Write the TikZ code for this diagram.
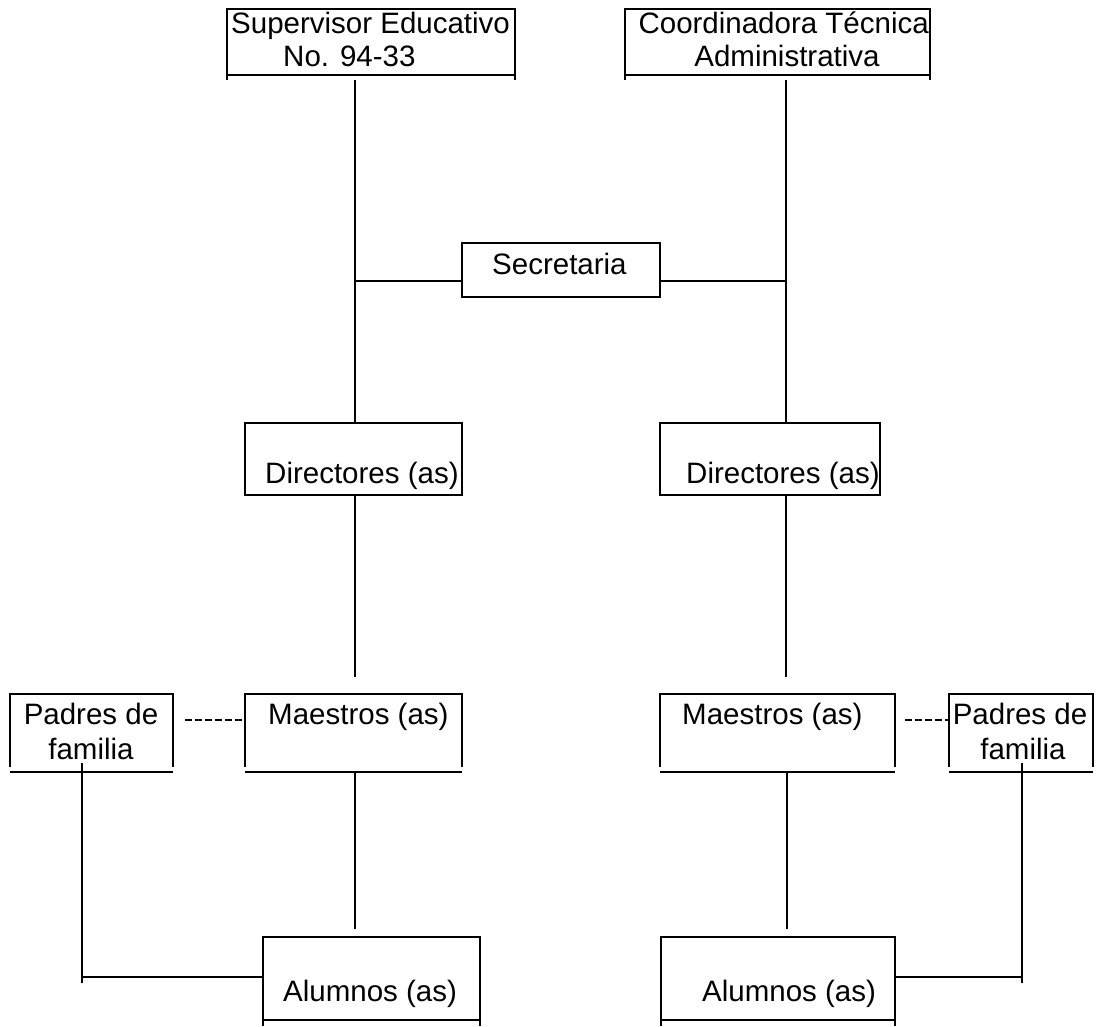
\documentclass[tikz,border=0pt]{standalone}
\usepackage{fontspec}
\setmainfont{Liberation Sans}
\begin{document}
\begin{tikzpicture}[x=1pt,y=-1pt,
  box/.style={draw,line width=1.4pt},
  conn/.style={line width=1.4pt},
  dashconn/.style={line width=1.4pt,dash pattern=on 7pt off 3pt},
  lbl/.style={inner sep=0pt,font=\fontsize{29.5}{34}\selectfont}]
\useasboundingbox (0,0) rectangle (1099,1026);
% boxes
\path[box] (227,9) rectangle (515,75);
\node[inner sep=0pt,minimum width=288pt,minimum height=66pt] (sup) at (371,42) {};
\draw[box] (227,75) -- (227,80) (515,75) -- (515,80);
\path[box] (625,9) rectangle (930,75);
\node[inner sep=0pt,minimum width=305pt,minimum height=66pt] (coo) at (777.5,42) {};
\draw[box] (625,75) -- (625,80) (930,75) -- (930,80);
\path[box] (462,243) rectangle (660,297);
\node[inner sep=0pt,minimum width=198pt,minimum height=54pt] (sec) at (561,270) {};
\path[box] (245,423) rectangle (462,495);
\node[inner sep=0pt,minimum width=217pt,minimum height=72pt] (dirL) at (353.5,459) {};
\path[box] (660,423) rectangle (880,495);
\node[inner sep=0pt,minimum width=220pt,minimum height=72pt] (dirR) at (770,459) {};
% Maestros / Padres boxes (sides stop short of the bottom line)
\draw[box] (245,767) -- (245,694) -- (462,694) -- (462,767) (245,772) -- (462,772);
\node[inner sep=0pt,minimum width=217pt,minimum height=78pt] (maeL) at (353.5,733) {};
\draw[box] (10,767) -- (10,694) -- (173,694) -- (173,767) (10,772) -- (173,772);
\node[inner sep=0pt,minimum width=163pt,minimum height=78pt] (padL) at (91.5,733) {};
\draw[box] (660,767) -- (660,694) -- (895,694) -- (895,767) (660,772) -- (895,772);
\node[inner sep=0pt,minimum width=235pt,minimum height=78pt] (maeR) at (777.5,733) {};
\draw[box] (949,767) -- (949,694) -- (1093,694) -- (1093,767) (949,772) -- (1093,772);
\node[inner sep=0pt,minimum width=144pt,minimum height=78pt] (padR) at (1021,733) {};
% Alumnos boxes
\draw[box] (263,1026) -- (263,937) -- (480,937) -- (480,1026) (263,1020) -- (480,1020);
\node[inner sep=0pt,minimum width=217pt,minimum height=83pt] (aluL) at (371.5,978.5) {};
\draw[box] (661,1026) -- (661,937) -- (895,937) -- (895,1026) (661,1020) -- (895,1020);
\node[inner sep=0pt,minimum width=234pt,minimum height=83pt] (aluR) at (778,978.5) {};
% texts
\node[lbl,anchor=base west] (t1) at (231,33) {Supervisor Educativo};
\node[lbl,anchor=base west] (t2) at (283,66) {No. 94-33};
\node[lbl,anchor=base east] (t3) at (929,33) {Coordinadora Técnica};
\node[lbl,anchor=base] (t4) at (787,66) {Administrativa};
\node[lbl,anchor=base west] (t5) at (492,274) {Secretaria};
\node[lbl,anchor=base west] (t6) at (265,483) {Directores (as)};
\node[lbl,anchor=base west] (t7) at (686,483) {Directores (as)};
\node[lbl,anchor=base west] (t8) at (268,724) {Maestros (as)};
\node[lbl,anchor=base west] (t9) at (682,724) {Maestros (as)};
\node[lbl,anchor=base] (t10) at (91,724) {Padres de};
\node[lbl,anchor=base] (t11) at (91,759) {familia};
\node[lbl,anchor=base] (t12) at (1020,724) {Padres de};
\node[lbl,anchor=base] (t13) at (1023,759) {familia};
\node[lbl,anchor=base west] (t14) at (283,1001) {Alumnos (as)};
\node[lbl,anchor=base west] (t15) at (702,1001) {Alumnos (as)};
% connector coordinates
\coordinate (a1) at (355,80);
\coordinate (a2) at (786,80);
\coordinate (s1) at (355,281);
\coordinate (s2) at (786,281);
\coordinate (b1) at (355,677);
\coordinate (b2) at (786,677);
\coordinate (c1) at (355,929);
\coordinate (c2) at (787,929);
\coordinate (p1) at (82,763);
\coordinate (p2) at (1022,763);
\coordinate (q1) at (82,983);
\coordinate (q2) at (1022,983);
\coordinate (h1) at (82,977);
\coordinate (h2) at (1022,977);
\coordinate (d1) at (185,720);
\coordinate (d2) at (905,720);
% connectors
\draw[conn] (a1) -- (a1 |- dirL.north);
\draw[conn] (a2) -- (a2 |- dirR.north);
\draw[conn] (s1) -- (s1 -| sec.west);
\draw[conn] (s2) -- (s2 -| sec.east);
\draw[conn] (dirL.south -| a1) -- (b1);
\draw[conn] (dirR.south -| a2) -- (b2);
\draw[conn] (maeL.south -| a1) -- (c1);
\draw[conn] (maeR.south -| c2) -- (c2);
\draw[dashconn] (d1) -- (d1 -| maeL.west);
\draw[dashconn] (d2) -- (d2 -| padR.west);
\draw[conn] (p1) -- (q1);
\draw[conn] (h1) -- (h1 -| aluL.west);
\draw[conn] (p2) -- (q2);
\draw[conn] (h2) -- (h2 -| aluR.east);
\end{tikzpicture}
\end{document}
